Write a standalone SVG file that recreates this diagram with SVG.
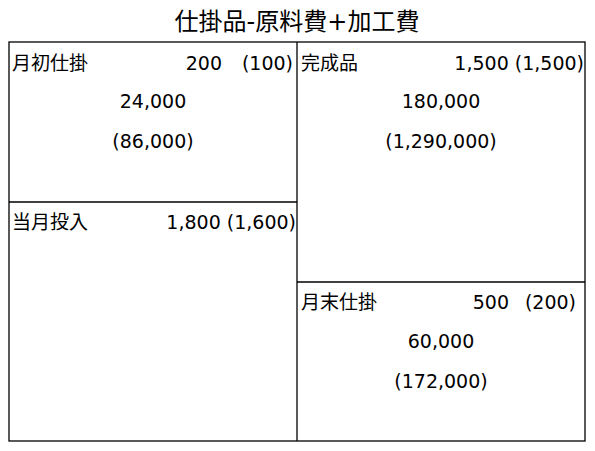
<svg xmlns="http://www.w3.org/2000/svg" width="595" height="451" viewBox="0 0 595 451">
<style>
text{font-family:"DejaVu Sans","Noto Sans CJK JP",sans-serif;font-size:19px;fill:#000}
.t{font-size:24px}
.m{text-anchor:middle}
.e{text-anchor:end}
.ln{stroke:#000;stroke-width:1.3;fill:none}
</style>
<rect width="595" height="451" fill="#fff"/>
<text class="t m" x="297" y="30">仕掛品-原料費+加工費</text>
<g id="frame">
<rect class="ln" x="9" y="42" width="576" height="399"/>
<line class="ln" x1="297" y1="42" x2="297" y2="441"/>
<line class="ln" x1="9" y1="202" x2="297" y2="202"/>
<line class="ln" x1="297" y1="282" x2="585" y2="282"/>
</g>
<g id="begin">
<text x="12" y="70">月初仕掛</text>
<text class="e" x="222" y="70">200</text>
<text class="e" x="293" y="70">(100)</text>
<text class="m" x="153" y="108">24,000</text>
<text class="m" x="153" y="148">(86,000)</text>
</g>
<g id="input">
<text x="12" y="229">当月投入</text>
<text class="e" x="296" y="229">1,800 (1,600)</text>
</g>
<g id="finished">
<text x="301" y="70">完成品</text>
<text class="e" x="584" y="70">1,500 (1,500)</text>
<text class="m" x="441" y="108">180,000</text>
<text class="m" x="441" y="148">(1,290,000)</text>
</g>
<g id="ending">
<text x="301" y="309">月末仕掛</text>
<text class="e" x="509" y="309">500</text>
<text class="e" x="576" y="309">(200)</text>
<text class="m" x="441" y="348">60,000</text>
<text class="m" x="441" y="388">(172,000)</text>
</g>
</svg>
